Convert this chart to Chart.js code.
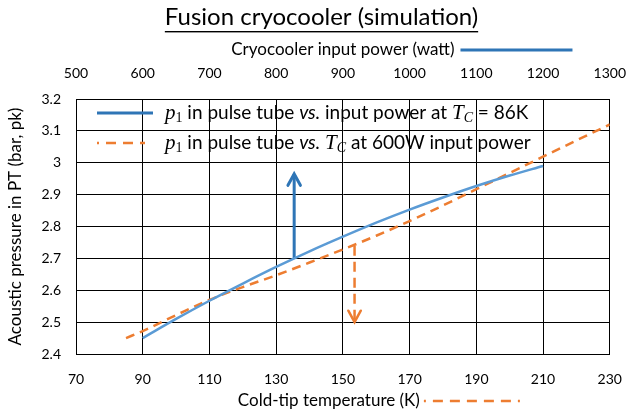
<!DOCTYPE html>
<html>
<head>
<title>Fusion cryocooler (simulation)</title>
<script src="https://cdn.jsdelivr.net/npm/chart.js"></script>
<style>
  body { margin: 0; background: #fff; }
  #wrap { width: 643px; height: 411px; }
</style>
</head>
<body>
<div id="wrap"><canvas id="cryoChart"></canvas></div>
<script>
// p1 vs input power at Tc = 86 K (top axis, watt)
const powerW   = [600, 650, 700, 750, 800, 850, 900, 950, 1000, 1050, 1100, 1150, 1200];
const pVsPower = [2.45, 2.51, 2.567, 2.621, 2.673, 2.722, 2.768, 2.812, 2.853, 2.891, 2.927, 2.96, 2.99];

// p1 vs cold-tip temperature at 600 W (bottom axis, K)
const tempK   = [85, 90, 100, 110, 120, 130, 140, 150, 160, 170, 180, 190, 200, 210, 220, 230];
const pVsTemp = [2.45, 2.472, 2.522, 2.57, 2.61, 2.647, 2.687, 2.728, 2.771, 2.817, 2.866, 2.917, 2.968, 3.019, 3.07, 3.12];

// the two arrows
const arrowPowerX = [827, 827];
const arrowPowerY = [2.70, 2.965];
const arrowTempX  = [153.5, 153.5];
const arrowTempY  = [2.74, 2.50];

// axis ranges [min, max, step]
const tempAxis  = [70, 230, 20];
const powerAxis = [500, 1300, 100];
const pAxis     = [2.4, 3.2, 0.1];

const BLUE = '#5B9BD5', BLUE_DARK = '#2E75B6', ORANGE = '#ED7D31';
const FONT = 'Lato, "Open Sans", sans-serif';
const MATH = '"Liberation Serif", "DejaVu Serif", serif';

Chart.defaults.font.family = FONT;
Chart.defaults.font.size = 14;
Chart.defaults.color = '#000';

const pts = (xs, ys) => xs.map((x, i) => ({ x: x, y: ys[i] }));

// write a line made of differently styled pieces, returns end x
function richText(ctx, x, y, parts) {
  parts.forEach(p => {
    ctx.font = p.f;
    ctx.fillText(p.t, x, y + (p.dy || 0));
    x += ctx.measureText(p.t).width;
  });
  return x;
}

function sample(ctx, x1, x2, y, color, width, dash, offset) {
  ctx.save();
  ctx.strokeStyle = color;
  ctx.lineWidth = width;
  ctx.setLineDash(dash || []);
  ctx.lineDashOffset = offset || 0;
  ctx.beginPath();
  ctx.moveTo(x1, y);
  ctx.lineTo(x2, y);
  ctx.stroke();
  ctx.restore();
}

const arrowHeads = {
  id: 'arrowHeads',
  afterDatasetsDraw(chart) {
    const ctx = chart.ctx;
    chart.data.datasets.forEach((ds, i) => {
      if (!ds.arrow) return;
      const d = chart.getDatasetMeta(i).data;
      const tip = d[d.length - 1], prev = d[d.length - 2];
      const a = Math.atan2(tip.y - prev.y, tip.x - prev.x);
      const len = 13, spread = 0.5;
      ctx.save();
      ctx.strokeStyle = ds.borderColor;
      ctx.lineWidth = ds.borderWidth;
      ctx.lineCap = 'round';
      ctx.beginPath();
      ctx.moveTo(tip.x - len * Math.cos(a - spread), tip.y - len * Math.sin(a - spread));
      ctx.lineTo(tip.x, tip.y);
      ctx.lineTo(tip.x - len * Math.cos(a + spread), tip.y - len * Math.sin(a + spread));
      ctx.stroke();
      ctx.restore();
    });
  }
};

const decorations = {
  id: 'decorations',
  afterDraw(chart) {
    const ctx = chart.ctx;
    const area = chart.chartArea;
    const mid = (area.left + area.right) / 2;
    ctx.save();
    ctx.fillStyle = '#000';
    ctx.textBaseline = 'middle';

    // underlined title
    ctx.font = '24px ' + FONT;
    ctx.textAlign = 'center';
    const title = 'Fusion cryocooler (simulation)';
    const tw = ctx.measureText(title).width;
    const cx = chart.width / 2;
    ctx.fillText(title, cx, 17);
    ctx.fillRect(cx - tw / 2, 31, tw, 1.4);

    // top axis title + its line sample
    ctx.font = '17px ' + FONT;
    const topTitle = 'Cryocooler input power (watt)';
    ctx.fillText(topTitle, mid, 50);
    const tEnd = mid + ctx.measureText(topTitle).width / 2;
    sample(ctx, tEnd + 6, tEnd + 118, 50, BLUE_DARK, 3);

    // bottom axis title + its line sample
    ctx.textAlign = 'left';
    const botTitle = 'Cold-tip temperature (K)';
    const bw = ctx.measureText(botTitle).width;
    const bx = mid - 14 - bw / 2;
    ctx.fillText(botTitle, bx, 401);
    sample(ctx, bx + bw + 4, bx + bw + 100, 401, ORANGE, 2.5, [10, 7], 8);

    // legend inside the plot
    ctx.textBaseline = 'alphabetic';
    const lx = area.left + 21, ly1 = area.top + 14, ly2 = area.top + 44;
    const txt = '19px ' + FONT, itx = 'italic 19px ' + FONT;
    const mBig = 'italic 21px ' + MATH, mSub = '14px ' + MATH, mSubI = 'italic 14px ' + MATH;
    sample(ctx, lx, lx + 56, ly1, BLUE_DARK, 3);
    richText(ctx, lx + 68, ly1 + 6, [
      { t: 'p', f: mBig }, { t: '1', f: mSub, dy: 3 },
      { t: ' in pulse tube ', f: txt }, { t: 'vs.', f: itx },
      { t: ' input power at ', f: txt },
      { t: 'T', f: mBig }, { t: 'C', f: mSubI, dy: 3 },
      { t: ' = 86K', f: txt }
    ]);
    sample(ctx, lx, lx + 48, ly2, ORANGE, 2.5, [10, 7], 8);
    richText(ctx, lx + 68, ly2 + 6, [
      { t: 'p', f: mBig }, { t: '1', f: mSub, dy: 3 },
      { t: ' in pulse tube ', f: txt }, { t: 'vs.', f: itx },
      { t: ' ', f: txt },
      { t: 'T', f: mBig }, { t: 'C', f: mSubI, dy: 3 },
      { t: ' at 600W input power', f: txt }
    ]);
    ctx.restore();
  }
};

new Chart(document.getElementById('cryoChart'), {
  type: 'line',
  data: {
    datasets: [
      {
        label: 'p1 vs input power',
        data: pts(powerW, pVsPower),
        xAxisID: 'x2',
        borderColor: BLUE,
        borderWidth: 2.5,
        cubicInterpolationMode: 'monotone',
        pointRadius: 0
      },
      {
        label: 'p1 vs Tc',
        data: pts(tempK, pVsTemp),
        xAxisID: 'x',
        borderColor: ORANGE,
        borderWidth: 2.5,
        borderDash: [9, 6],
        cubicInterpolationMode: 'monotone',
        pointRadius: 0
      },
      {
        label: 'arrow power',
        data: pts(arrowPowerX, arrowPowerY),
        xAxisID: 'x2',
        borderColor: BLUE_DARK,
        borderWidth: 3,
        pointRadius: 0,
        arrow: true
      },
      {
        label: 'arrow temp',
        data: pts(arrowTempX, arrowTempY),
        xAxisID: 'x',
        borderColor: ORANGE,
        borderWidth: 2.5,
        borderDash: [10, 6],
        pointRadius: 0,
        arrow: true
      }
    ]
  },
  options: {
    responsive: true,
    maintainAspectRatio: false,
    animation: false,
    layout: { padding: { left: 0, right: 19, top: 0, bottom: 0 } },
    plugins: {
      legend: { display: false },
      tooltip: { enabled: false }
    },
    scales: {
      x: {
        type: 'linear',
        position: 'bottom',
        min: tempAxis[0], max: tempAxis[1],
        ticks: { stepSize: tempAxis[2], padding: 17, font: { size: 14 }, callback: v => String(v) },
        grid: { color: '#000', lineWidth: 1, drawTicks: false },
        border: { color: '#000', width: 1 },
        afterFit: s => { s.height = 57; }
      },
      x2: {
        type: 'linear',
        position: 'top',
        min: powerAxis[0], max: powerAxis[1],
        ticks: { stepSize: powerAxis[2], padding: 17, font: { size: 14 }, callback: v => String(v) },
        grid: { display: false, drawTicks: false },
        border: { color: '#000', width: 1 },
        afterFit: s => { s.height = 99; }
      },
      y: {
        min: pAxis[0], max: pAxis[1],
        ticks: {
          stepSize: pAxis[2],
          padding: 15,
          font: { size: 14 },
          callback: v => String(Number(v.toFixed(1)))
        },
        grid: { color: '#000', lineWidth: 1, drawTicks: false },
        border: { color: '#000', width: 1 },
        title: {
          display: true,
          text: 'Acoustic pressure in PT (bar, pk)',
          font: { size: 17 },
          padding: { top: 5, bottom: 0 }
        },
        afterFit: s => { s.width = 76; }
      }
    }
  },
  plugins: [arrowHeads, decorations]
});
</script>
</body>
</html>
